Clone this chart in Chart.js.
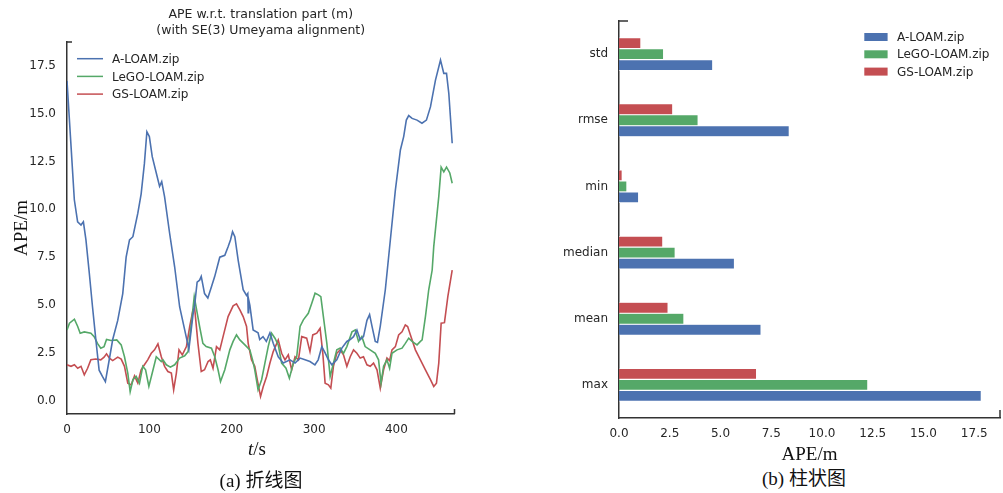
<!DOCTYPE html>
<html><head><meta charset="utf-8">
<script src="https://cdn.jsdelivr.net/npm/chart.js@4.4.0/dist/chart.umd.min.js"></script>
<style>
body{margin:0;background:#fff;width:1003px;height:493px;overflow:hidden;position:relative;}
#w1{position:absolute;left:0;top:0;width:470px;height:440px;}
#w2{position:absolute;left:540px;top:0;width:463px;height:467px;}
.lbl{position:absolute;font-family:"Liberation Serif","Noto Sans CJK SC",serif;font-size:19px;color:#111;transform:translate(-50%,-50%);white-space:nowrap;line-height:1;}
</style></head>
<body>
<div id="w1"><canvas id="c1"></canvas></div>
<div id="w2"><canvas id="c2"></canvas></div>
<div class="lbl" style="left:257px;top:448px"><i>t</i>/s</div>
<div class="lbl" style="left:261px;top:480px">(a) 折线图</div>
<div class="lbl" style="left:804px;top:478px">(b) 柱状图</div>
<script>
// ---------- data: line chart ----------
const seriesNames = ['A-LOAM.zip', 'LeGO-LOAM.zip', 'GS-LOAM.zip'];
const aloamT = [0,4.9,8.9,12.9,17,19.9,23,27,31,35,39,43,46.6,50.7,55.5,61.6,67.7,71.8,75.9,80,86,90,94,97,100,103.5,108.4,112.4,115,118.5,124.6,130.7,136.8,142.9,148,153,155,158,161,163,167,171,175.4,179.4,185.5,191.6,195.6,198.5,201,203.8,207.8,213.9,218,219.5,220,220.5,222,226,232,234,238,242,246.4,250.4,256.5,262.6,270.8,276.9,283,289,295,301,305,309.4,313.4,317.4,321.5,327.6,333.7,339.8,343.9,347.9,352,356,360,364.2,367.4,370.3,374.3,377,380.4,386.5,392.6,398.7,404.8,408.8,412,414.9,419,425,431,436.4,441.3,447.4,453.5,457.5,460.8,463.6,467.7];
const aloamAPE = [16.7,13.3,10.5,9.35,9.18,9.35,8.4,6.7,4.9,3.2,1.6,1.27,1.0,2.0,3.2,4.2,5.6,7.5,8.4,8.57,9.8,10.8,12.4,14.05,13.8,12.75,11.9,11.2,11.45,10.65,8.75,7.0,4.9,3.7,2.7,4.5,5.0,6.2,6.3,6.5,5.6,5.37,5.96,6.5,7.5,7.6,8.05,8.4,8.83,8.57,7.35,5.8,5.5,5.6,4.6,5.3,5.0,3.7,3.55,3.2,3.35,3.1,3.55,3.0,2.3,1.97,2.14,1.97,2.23,2.14,2.05,1.88,2.14,2.83,2.5,2.14,1.88,2.14,2.75,3.1,3.2,3.35,3.7,3.2,3.35,4.2,4.5,3.9,3.1,3.05,3.9,5.8,8.4,11.0,13.1,13.8,14.66,14.9,14.75,14.66,14.5,14.66,15.35,16.75,17.8,17.1,17.1,16.05,13.45];
const legoT = [0,3,9,13,16,21,29,33,37,41,45,48,53.5,60.4,65.8,69.8,73.8,76.7,80,84,88,92,95.4,99.4,103.5,108.4,114.5,116.5,120.6,125.5,130.7,136.8,142.9,147,151,154.5,158,161,165,169,175.4,179.4,183.4,186.4,191.6,197.7,201.7,205.8,209.9,216,222,225.3,228,232,236.3,240.3,244.3,248.4,252.5,256.5,260.6,265.9,270,274.8,278.9,283,287,293,297.2,301.2,305.2,308.2,311.3,315.5,319.5,323.5,327.6,331.7,335.7,339.8,346,350,354,358,362,368,374.3,378.3,381.3,384.4,388.5,391.7,394.6,400.7,406.8,410.8,414.9,419,425,429.1,431.2,435.2,439.2,443.4,445.3,451.4,454.3,457.5,460.8,464.8,467.7];
const legoAPE = [3.7,4.05,4.26,3.88,3.53,3.6,3.53,3.35,3.0,2.75,2.83,3.2,3.15,3.18,2.92,2.3,1.45,0.48,1.1,1.27,0.92,1.8,1.62,0.75,1.45,2.3,2.05,2.14,1.88,1.76,1.88,2.23,2.35,2.57,4.05,5.44,4.6,3.88,3.0,2.83,2.75,2.3,1.62,1.0,1.62,2.66,3.1,3.44,3.18,2.92,2.66,2.14,1.62,0.57,1.1,1.97,2.83,3.53,3.27,2.92,1.97,1.7,1.18,1.97,2.3,3.88,4.23,4.57,5.1,5.62,5.53,5.44,4.4,3.0,1.27,1.97,2.66,2.75,2.48,2.83,3.6,3.7,3.1,3.35,2.83,2.66,2.48,2.14,0.92,1.8,2.14,1.7,2.48,2.66,2.75,3.0,3.27,3.1,2.92,3.1,3.18,4.4,5.8,6.83,8.05,10.66,12.2,11.96,12.2,11.9,11.36];
const gsT = [0,4.9,9,13,17,21,25,29,35,41,45,48,51.5,55.5,61.6,65.8,69.8,73.8,78,82,86,90,94,98,102.3,106.3,110.4,114.5,118.5,122.5,126.7,129.5,132.8,136,140,145,149,153,155,159,163,167,171.3,174,177.3,181.5,185.5,189.5,195.6,201.7,205.8,209.9,213.9,218,220,224,228,231,235,238.3,242.4,246.4,250.4,256.5,260.6,264.7,268.7,272.8,276.9,281,285,291,295,298.4,303.3,307.3,310.6,313.4,317.4,320.3,323.5,327.6,331.7,335.7,339.8,343.9,347.9,352,356,360,364.2,368.2,372.2,376.4,380.4,384.4,388.5,391.7,394.6,398.7,402.7,406.8,410.8,413.6,417,423,429.1,435.2,441.3,445.3,448.6,451.4,454.3,458.3,462.4,467.7];
const gsAPE = [1.88,1.8,1.88,1.7,1.8,1.36,1.7,2.14,2.18,2.14,2.28,2.45,2.23,2.1,2.28,2.18,1.8,0.92,0.83,1.3,0.92,1.62,1.88,2.14,2.48,2.66,2.97,2.3,1.8,1.53,1.45,0.57,1.45,2.66,2.4,2.83,3.88,4.75,4.84,3.0,1.53,1.62,2.05,2.14,1.7,2.83,2.66,3.35,4.4,4.96,5.06,4.75,4.4,3.88,3.0,2.14,1.8,1.1,0.22,0.75,1.27,1.97,2.57,3.18,2.48,2.14,2.4,1.62,2.3,2.14,3.35,3.27,2.57,3.44,3.53,3.79,2.48,0.92,0.83,0.66,1.8,2.48,2.66,2.4,1.8,2.3,2.66,2.48,2.23,2.3,1.88,1.8,1.97,1.62,0.66,1.62,2.23,2.1,2.66,2.83,3.44,3.6,3.96,3.88,3.44,2.66,2.14,1.62,1.1,0.75,0.92,1.97,4.05,4.08,5.44,6.83];
const lineYTicks = [0, 2.5, 5, 7.5, 10, 12.5, 15, 17.5];
const lineXTicks = [0, 100, 200, 300, 400];

// ---------- data: bar chart ----------
const statCategories = ['std', 'rmse', 'min', 'median', 'mean', 'max'];
const aloamStats = [4.62, 8.39, 0.97, 5.69, 7.00, 17.85];
const legoStats  = [2.20, 3.90, 0.39, 2.77, 3.20, 12.26];
const gsStats    = [1.08, 2.65, 0.16, 2.16, 2.42, 6.78];
const barXTicks = [0, 2.5, 5, 7.5, 10, 12.5, 15, 17.5];

const C_BLUE = '#4C72B0', C_GREEN = '#55A868', C_RED = '#C44E52';
const TXT = '#262626', SPINE = '#333333';
const SANS = '"DejaVu Sans", sans-serif';

const zip = (t, v) => t.map((x, i) => ({x: x, y: v[i]}));

const decor = {
  id: 'decor',
  afterDraw(chart, args, o) {
    const {ctx, chartArea: a} = chart;
    ctx.save();
    ctx.strokeStyle = SPINE; ctx.lineWidth = 1.5;
    ctx.beginPath();
    ctx.moveTo(a.left, a.top); ctx.lineTo(a.left + o.tl, a.top);
    ctx.moveTo(a.right, a.bottom); ctx.lineTo(a.right, a.bottom - o.br);
    ctx.stroke();
    let items = chart.data.datasets.map(d => ({label: d.label, color: o.kind === 'line' ? d.borderColor : d.backgroundColor}));
    if (o.reverse) items = items.reverse();
    ctx.font = '12px ' + SANS; ctx.textBaseline = 'middle'; ctx.textAlign = 'left';
    items.forEach((it, i) => {
      const x = a.left + o.x0, y = a.top + o.y0 + i * o.dy;
      if (o.kind === 'line') {
        ctx.strokeStyle = it.color; ctx.lineWidth = 1.5;
        ctx.beginPath(); ctx.moveTo(x, y); ctx.lineTo(x + o.w, y); ctx.stroke();
      } else {
        ctx.fillStyle = it.color; ctx.fillRect(x, y - o.h / 2, o.w, o.h);
      }
      ctx.fillStyle = TXT; ctx.fillText(it.label, x + o.tx, y + 1);
    });
    ctx.restore();
  }
};

const lineDs = (label, t, v, col) => ({label, data: zip(t, v), borderColor: col, backgroundColor: col, borderWidth: 1.6, pointRadius: 0, tension: 0, fill: false});

new Chart(document.getElementById('c1'), {
  type: 'line',
  data: {datasets: [
    lineDs(seriesNames[0], aloamT, aloamAPE, C_BLUE),
    lineDs(seriesNames[1], legoT, legoAPE, C_GREEN),
    lineDs(seriesNames[2], gsT, gsAPE, C_RED)
  ]},
  options: {
    responsive: true, maintainAspectRatio: false, animation: false,
    layout: {padding: {left: 0, right: 15.5, top: 0, bottom: 0}},
    plugins: {
      legend: {display: false}, tooltip: {enabled: false},
      title: {display: true, fullSize: false, text: ['APE w.r.t. translation part (m)', '(with SE(3) Umeyama alignment)'],
        color: TXT, font: {family: SANS, size: 12.5, weight: 'normal', lineHeight: 1.28}, padding: {top: 7, bottom: 3}},
      decor: {kind: 'line', tl: 5, br: 5, x0: 10, w: 26, y0: 16.7, dy: 17.7, tx: 35}
    },
    scales: {
      x: {type: 'linear', min: 0, max: 470.5,
        afterFit: s => { s.height = 26; },
        afterBuildTicks: s => { s.ticks = lineXTicks.map(v => ({value: v})); },
        grid: {display: false, drawTicks: false},
        border: {display: true, color: SPINE, width: 1.5},
        ticks: {padding: 9, color: TXT, font: {family: SANS, size: 12}, maxRotation: 0, callback: v => String(v)}},
      y: {type: 'linear', min: -0.69, max: 18.74,
        afterFit: s => { s.width = 67; },
        afterBuildTicks: s => { s.ticks = lineYTicks.map(v => ({value: v})); },
        grid: {display: false, drawTicks: false},
        border: {display: true, color: SPINE, width: 1.5},
        ticks: {padding: 11, color: TXT, font: {family: SANS, size: 12}, callback: v => Number(v).toFixed(1)},
        title: {display: true, text: 'APE/m', color: '#111', font: {family: '"Liberation Serif", serif', size: 19}, padding: {top: 10.5, bottom: 0}}}
    }
  },
  plugins: [decor]
});

const barDs = (label, v, col) => ({label, data: v, backgroundColor: col, borderColor: '#ffffff', borderWidth: 0.6, categoryPercentage: 0.5, barPercentage: 1.0});

new Chart(document.getElementById('c2'), {
  type: 'bar',
  data: {labels: statCategories, datasets: [
    barDs(seriesNames[2], gsStats, C_RED),
    barDs(seriesNames[1], legoStats, C_GREEN),
    barDs(seriesNames[0], aloamStats, C_BLUE)
  ]},
  options: {
    indexAxis: 'y',
    responsive: true, maintainAspectRatio: false, animation: false,
    layout: {padding: {left: 0, right: 3, top: 21, bottom: 0}},
    plugins: {
      legend: {display: false}, tooltip: {enabled: false},
      decor: {kind: 'bar', reverse: true, tl: 9, br: 8, x0: 245.3, w: 23.3, h: 8, y0: 16, dy: 17.3, tx: 32.7}
    },
    scales: {
      x: {type: 'linear', min: 0, max: 18.77,
        afterFit: s => { s.height = 49; },
        afterBuildTicks: s => { s.ticks = barXTicks.map(v => ({value: v})); },
        grid: {display: false, drawTicks: false},
        border: {display: true, color: SPINE, width: 1.5},
        ticks: {padding: 9, color: TXT, font: {family: SANS, size: 12}, maxRotation: 0, callback: v => Number(v).toFixed(1)},
        title: {display: true, text: 'APE/m', color: '#111', font: {family: '"Liberation Serif", serif', size: 19}, padding: {top: 0, bottom: 1}}},
      y: {type: 'category', offset: true,
        afterFit: s => { s.width = 79; },
        grid: {display: false, drawTicks: false},
        border: {display: true, color: SPINE, width: 1.5},
        ticks: {padding: 11, color: TXT, font: {family: SANS, size: 12}}}
    }
  },
  plugins: [decor]
});
</script>
</body></html>
